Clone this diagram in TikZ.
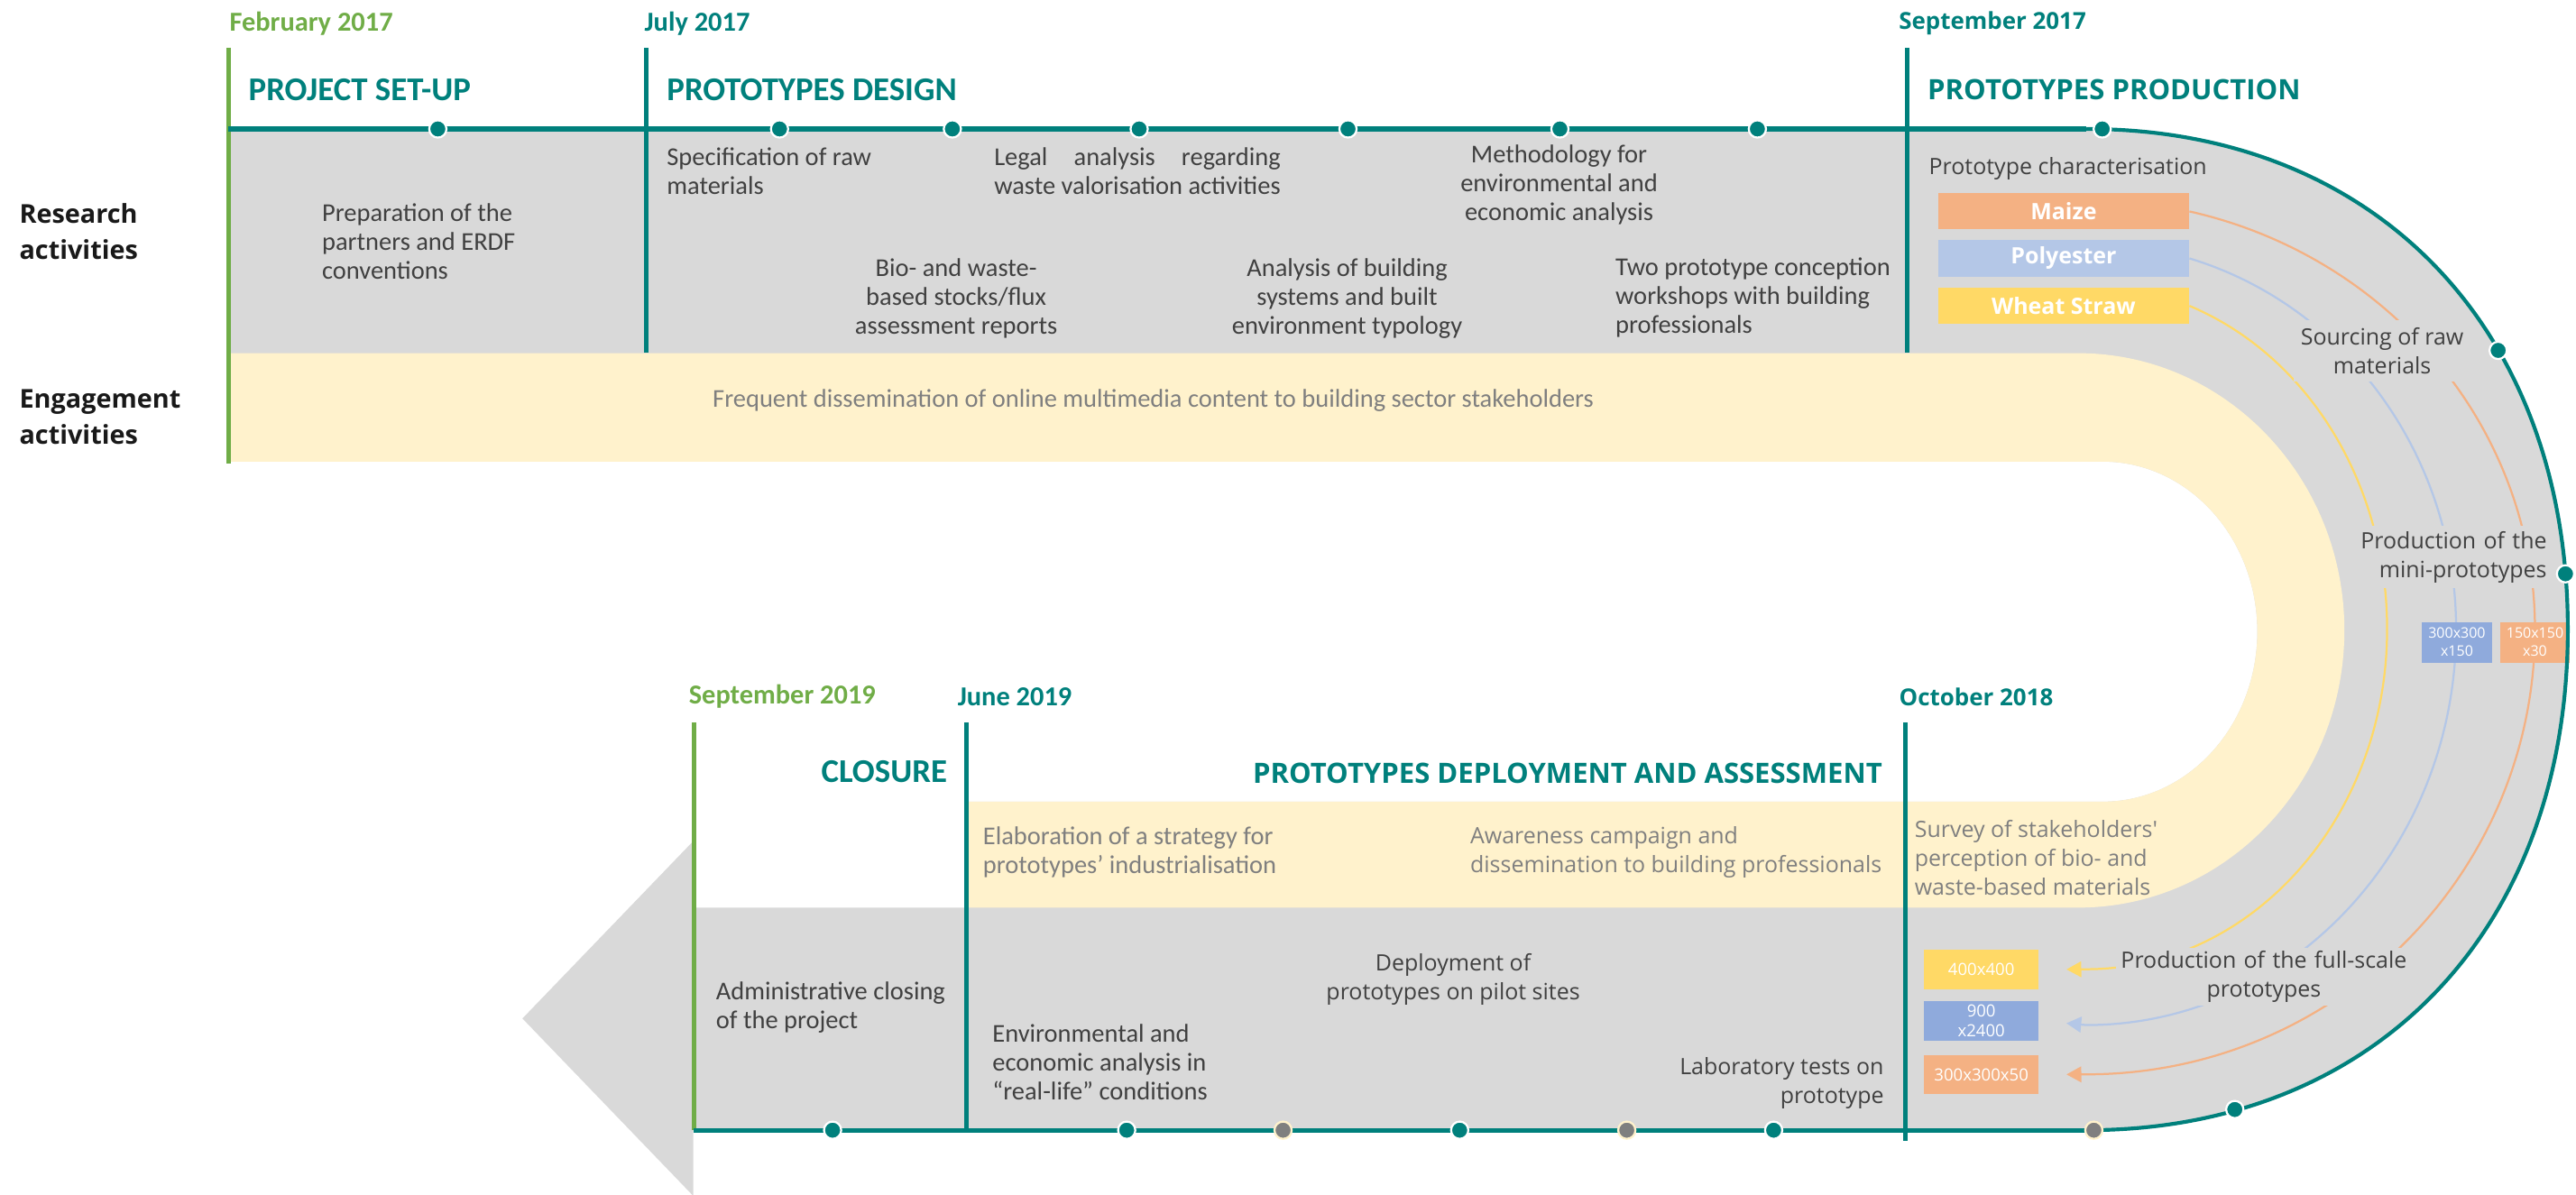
\documentclass[tikz,border=0pt]{standalone}
\usepackage{fontspec}
\usepackage{calc}
\setmainfont{Carlito}
\newfontfamily\widefont{Open Sans}
\usetikzlibrary{arrows.meta}
\definecolor{tealc}{HTML}{00807C}
\definecolor{greenc}{HTML}{70AD47}
\definecolor{bandgrey}{HTML}{D9D9D9}
\definecolor{bandyellow}{HTML}{FFF2CC}
\definecolor{maizec}{HTML}{F4B183}
\definecolor{polyc}{HTML}{B4C7E7}
\definecolor{wheatc}{HTML}{FFD966}
\definecolor{bluebox}{HTML}{8FAADC}
\definecolor{txt}{HTML}{404040}
\definecolor{ltxt}{HTML}{7F7F7F}
\definecolor{dotgrey}{HTML}{7F7F7F}
\tikzset{
  body/.style={font=\fontsize{8.9}{10}\selectfont, text=txt, inner sep=0pt, align=left},
  wbody/.style={font=\widefont\fontsize{7.8}{10}\selectfont, text=txt, inner sep=0pt, align=left},
  phase/.style={font=\bfseries\fontsize{11.5}{13}\selectfont, text=tealc, inner sep=0pt},
  wphase/.style={font=\widefont\bfseries\fontsize{9.7}{11}\selectfont, text=tealc, inner sep=0pt},
  datelbl/.style={font=\bfseries\fontsize{9.5}{11}\selectfont, inner sep=0pt, anchor=west},
  wdatelbl/.style={font=\widefont\bfseries\fontsize{8.1}{10}\selectfont, text=tealc, inner sep=0pt, anchor=west},
  rowlbl/.style={font=\widefont\bfseries\fontsize{9}{12.5}\selectfont, text=black!90, align=left, anchor=west, inner sep=0pt},
  matbox/.style={font=\widefont\bfseries\fontsize{7.8}{9}\selectfont, text=white, minimum width=30.5mm, minimum height=4.4mm, inner sep=0pt},
  dimbox/.style={font=\widefont\fontsize{5.8}{6.8}\selectfont, text=white, align=center, inner sep=0pt},
  minibox/.style={dimbox, font=\widefont\fontsize{5}{6.2}\selectfont, minimum width=8.5mm, minimum height=4.95mm},
  dot/.style={circle, fill=tealc, draw=white, line width=0.7pt, minimum size=2.1mm, inner sep=0pt},
  tl/.style={tealc, line width=1.6pt},
  gl/.style={greenc, line width=1.6pt},
  matline/.style={line width=0.7pt, -{Triangle[length=1.8mm,width=1.9mm]}, shorten >=3.3mm},
  tagbox/.style={wbody, fill=bandgrey, align=center},
}
\begin{document}
\begin{tikzpicture}[x=0.2mm,y=-0.2mm]
\useasboundingbox (0,0) rectangle (1568,727);
% bands
\fill[bandgrey] (139,78) -- (1270,78) .. controls (1445.8,78) and (1563,200) .. (1563,383)
  .. controls (1563,566) and (1445.8,688) .. (1270,688) -- (422,688) -- (422,552.5) -- (588,552.5)
  -- (588,488) -- (1280,488) .. controls (1331.9,488) and (1374,441.6) .. (1374,384.5)
  .. controls (1374,327.4) and (1331.9,281) .. (1280,281) -- (139,281) -- cycle;
\fill[bandgrey] (422,512) -- (318,620) -- (422,728) -- cycle;
\fill[bandyellow] (139,215) -- (1265,215) .. controls (1354.4,215) and (1427,290.6) .. (1427,383.75)
  .. controls (1427,476.9) and (1354.4,552.5) .. (1265,552.5) -- (588,552.5) -- (588,488) -- (1280,488)
  .. controls (1331.9,488) and (1374,441.6) .. (1374,384.5)
  .. controls (1374,327.4) and (1331.9,281) .. (1280,281) -- (139,281) -- cycle;

% row labels, dates, phases
\node[rowlbl] (research) at (11.5,141) {Research\\activities};
\node[rowlbl] (engage) at (11.5,253.7) {Engagement\\activities};
\node[datelbl, text=greenc] (feb17) at (139.4,14.5) {February 2017};
\node[datelbl, text=tealc] (jul17) at (392,14.5) {July 2017};
\node[wdatelbl] (sep17) at (1155.5,14) {September 2017};
\node[phase, anchor=west] (setup) at (151,54.5) {PROJECT SET-UP};
\node[phase, anchor=west] (design) at (405.6,54.5) {PROTOTYPES DESIGN};
\node[wphase, anchor=west] (prod) at (1173,54.5) {PROTOTYPES PRODUCTION};
\node[datelbl, text=greenc] (sep19) at (419,424) {September 2019};
\node[datelbl, text=tealc] (jun19) at (582.6,424) {June 2019};
\node[wdatelbl] (oct18) at (1155.7,424.3) {October 2018};
\node[phase, anchor=east] (closure) at (576.8,469.5) {CLOSURE};
\node[wphase, anchor=east] (deploy) at (1146,470.8) {PROTOTYPES DEPLOYMENT AND ASSESSMENT};

% research and engagement texts
\node[body, anchor=west] (prep) at (195.7,147) {Preparation of the\\partners and ERDF\\conventions};
\node[body, anchor=west] (spec) at (405.6,104) {Specification of raw\\materials};
\node[body, anchor=west] (legal) at (604.8,104) {\makebox[\widthof{waste valorisation activities}][s]{Legal analysis regarding}\\waste valorisation activities};
\node[body, align=center] (method) at (949,112.6) {Methodology for\\environmental and\\economic analysis};
\node[body, align=center] (bio) at (582,181.6) {Bio- and waste-\\based stocks/flux\\assessment reports};
\node[body, align=center] (analysis) at (820,181.6) {Analysis of building\\systems and built\\environment typology};
\node[body, anchor=west] (concept) at (983,181.3) {Two prototype conception\\workshops with building\\professionals};
\node[body, text=ltxt] (dissem) at (702,243.6) {Frequent dissemination of online multimedia content to building sector stakeholders};
\node[wbody, anchor=west] (charac) at (1173.8,102.5) {Prototype characterisation};
\node[body, anchor=west, text=ltxt] (strat) at (598,519) {Elaboration of a strategy for\\prototypes' industrialisation};
\node[wbody, anchor=west, text=ltxt] (aware) at (894.6,518.6) {Awareness campaign and\\dissemination to building professionals};
\node[wbody, anchor=west, text=ltxt] (survey) at (1165.1,522) {Survey of stakeholders'\\perception of bio- and\\waste-based materials};
\node[body, anchor=west] (admin) at (435.5,613.5) {Administrative closing\\of the project};
\node[body, anchor=west] (envi) at (603.8,646.6) {Environmental and\\economic analysis in\\``real-life'' conditions};
\node[wbody, align=center] (pilot) at (884.5,596) {Deployment of\\prototypes on pilot sites};
\node[wbody, anchor=east, align=right] (lab) at (1147,659.5) {Laboratory tests on\\prototype};

% materials and sizes
\node[matbox, fill=maizec] (maize) at (1256.1,128.7) {Maize};
\node[matbox, fill=polyc] (poly) at (1256.1,157.3) {Polyester};
\node[matbox, fill=wheatc] (wheat) at (1256.1,186.2) {Wheat Straw};
\node[dimbox, fill=wheatc, minimum width=14mm, minimum height=4.8mm] (fy) at (1206,590.3) {400x400};
\node[dimbox, fill=bluebox, minimum width=14mm, minimum height=4.8mm] (fb) at (1206,621.4) {900\\x2400};
\node[dimbox, fill=maizec, minimum width=14mm, minimum height=4.8mm] (fo) at (1206,654.1) {300x300x50};
\draw[matline, maizec] (maize.east) .. controls (1455.7,156.4) and (1543,261.7) .. (1543,383)
  .. controls (1543,532.7) and (1420.8,654) .. (1270,654) -- (fo.east);
\draw[matline, polyc] (poly.east) .. controls (1428.7,186.3) and (1495,278.4) .. (1495,383)
  .. controls (1495,516.1) and (1394.3,624) .. (1270,624) -- (fb.east);
\draw[matline, wheatc] (wheat.east) .. controls (1405.6,216.8) and (1453,295.3) .. (1453,383)
  .. controls (1453,497.3) and (1371.1,590) .. (1270,590) -- (fy.east);
\node[minibox, fill=bluebox] (mb) at (1495.5,391) {300x300\\x150};
\node[minibox, fill=maizec] (mo) at (1543,391) {150x150\\x30};
\node[tagbox, minimum width=21.6mm, minimum height=7.4mm] (source) at (1450,213.5) {Sourcing of raw\\materials};
\node[tagbox, text width=22.8mm, align=right, inner xsep=0.25mm, minimum height=7.5mm, anchor=east] (mini) at (1551.8,339) {Production of the\\mini-prototypes};
\node[tagbox, text width=36mm, minimum height=7mm] (full) at (1378,594.5) {Production of the full-scale\\prototypes};

% timeline
\draw[gl] (139.4,29) -- (139.4,282);
\draw[tl] (393.6,29) -- (393.6,214.5);
\draw[tl] (1161,29) -- (1161,214.5);
\draw[gl] (422.5,440) -- (422.5,688);
\draw[tl] (588.5,440) -- (588.5,688);
\draw[tl] (1160,440) -- (1160,694.5);
\draw[tl] (139,78.5) -- (1270,78.5);
\draw[tl] (422,688) -- (1270,688);
\draw[tealc, line width=1.3pt] (1270,78.5) .. controls (1445.8,78.5) and (1563,200) .. (1563,383)
  .. controls (1563,566) and (1445.8,688) .. (1270,688);
\foreach \x [count=\i] in {266.5,474.5,579.7,693.4,820.5,949.5,1069.7,1279.6}
  \node[dot] (u\i) at (\x,78.5) {};
\node[dot] (u9) at (1520.6,213.3) {};
\node[dot] (u10) at (1561.6,349.3) {};
\foreach \x/\c/\r [count=\i] in {506.8/tealc/white,685.8/tealc/white,781/dotgrey/bandyellow,888.5/tealc/white,990.2/dotgrey/bandyellow,1079.6/tealc/white,1274.5/dotgrey/bandyellow}
  \node[dot, fill=\c, draw=\r] (b\i) at (\x,688) {};
\node[dot] (b8) at (1360.3,675.4) {};
\end{tikzpicture}
\end{document}
